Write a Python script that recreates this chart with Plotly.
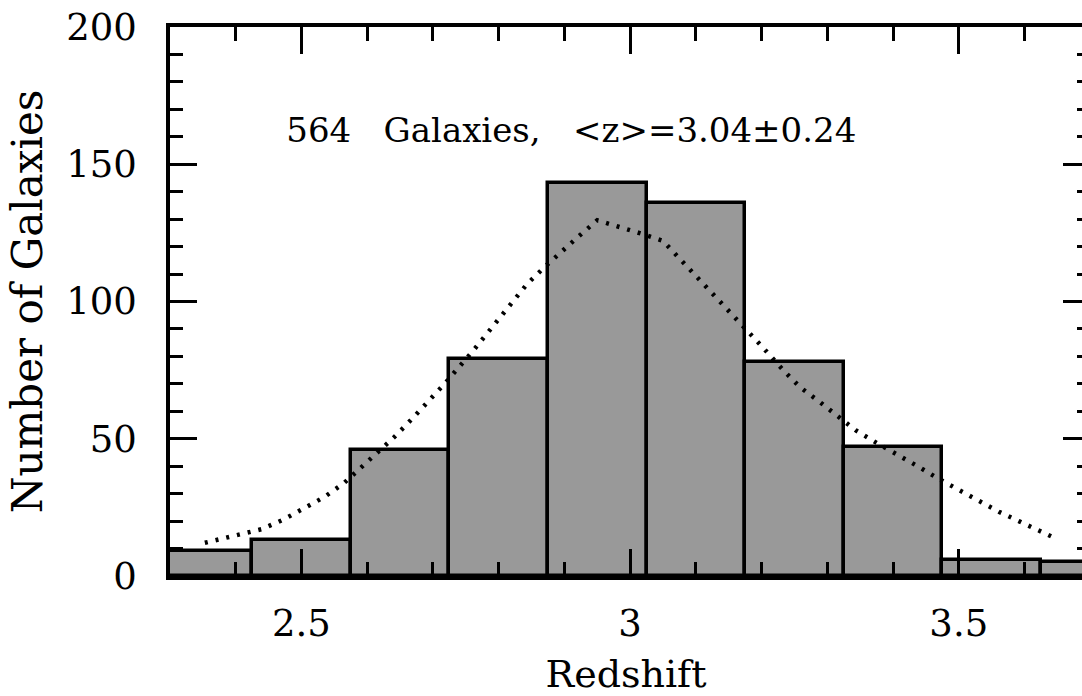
import plotly.graph_objects as go

# Histogram bins (redshift bin centres, width 0.15) and counts
bin_centers = [2.35, 2.50, 2.65, 2.80, 2.95, 3.10, 3.25, 3.40, 3.55, 3.70]
bin_counts = [9, 13, 46, 79, 143, 136, 78, 47, 6, 5]
bin_width = 0.15

# Dotted model curve
curve_z = [2.353, 2.406, 2.440, 2.473, 2.504, 2.535, 2.564, 2.590, 2.617, 2.643,
           2.668, 2.693, 2.718, 2.763, 2.798, 2.821, 2.843, 2.870, 2.895, 2.922,
           2.950, 2.984, 3.016, 3.050, 3.075, 3.100, 3.126, 3.148, 3.173, 3.198,
           3.234, 3.259, 3.288, 3.316, 3.343, 3.375, 3.406, 3.436, 3.468, 3.498,
           3.529, 3.561, 3.593, 3.627, 3.642]
curve_n = [12.1, 15.3, 17.1, 20.6, 24.9, 28.8, 33.7, 39.3, 45.4, 51.0,
           57.2, 63.5, 70.1, 82.6, 92.9, 99.6, 106.3, 112.6, 118.1, 123.8,
           129.6, 127.2, 124.8, 122.1, 115.7, 109.6, 103.1, 97.1, 90.8, 84.3,
           74.7, 68.7, 63.5, 58.2, 53.1, 48.5, 44.4, 40.2, 35.6, 31.6,
           27.3, 23.4, 19.8, 16.1, 14.3]

x_tickvals = [2.5, 3.0, 3.5]
x_ticktext = ["2.5", "3", "3.5"]
y_tickvals = [0, 50, 100, 150, 200]
y_ticktext = ["0", "50", "100", "150", "200"]

label_text = "564&nbsp;&nbsp; Galaxies,&nbsp;&nbsp; &lt;z&gt;=3.04&plusmn;0.24"

FONT = "DejaVu Serif"

fig = go.Figure()
fig.add_trace(go.Bar(
    x=bin_centers, y=bin_counts, width=bin_width,
    marker=dict(color="#999999", line=dict(color="black", width=3.5)),
    hoverinfo="skip", showlegend=False,
))
fig.add_trace(go.Scatter(
    x=curve_z, y=curve_n, mode="lines", yaxis="y2",
    line=dict(color="black", width=4.5, dash="3px,8px"),
    hoverinfo="skip", showlegend=False,
))

fig.update_layout(
    width=1082, height=696,
    margin=dict(l=170, r=0, t=27, b=120, autoexpand=False),
    paper_bgcolor="white", plot_bgcolor="white",
    font=dict(family=FONT, color="black"),
    bargap=0,
    title=dict(
        text=label_text, xref="paper", yref="container",
        x=0.44, y=1 - 130 / 696, xanchor="center", yanchor="middle",
        font=dict(family=FONT, size=34, color="black"),
    ),
    xaxis=dict(
        range=[2.3, 3.6875], showgrid=False, zeroline=False,
        showline=True, linewidth=3.5, linecolor="black", mirror="ticks",
        ticks="inside", ticklen=27, tickwidth=3, tickcolor="black",
        tickvals=x_tickvals, ticktext=x_ticktext,
        tickfont=dict(family=FONT, size=37), ticklabelstandoff=12,
        minor=dict(dtick=0.1, tick0=2.3, ticks="inside", ticklen=14,
                   tickwidth=3, tickcolor="black", showgrid=False),
        title=dict(text="Redshift", font=dict(family=FONT, size=38), standoff=26),
    ),
    yaxis=dict(
        range=[0, 200], showgrid=False, zeroline=False,
        showline=True, linewidth=3.5, linecolor="black", mirror=False,
        ticks="inside", ticklen=27, tickwidth=3, tickcolor="black",
        tickvals=y_tickvals, ticktext=y_ticktext,
        tickfont=dict(family=FONT, size=37), ticklabelstandoff=22,
        minor=dict(dtick=10, tick0=0, ticks="inside", ticklen=13,
                   tickwidth=3, tickcolor="black", showgrid=False),
        title=dict(text="Number of Galaxies", font=dict(family=FONT, size=42), standoff=12),
    ),
    yaxis2=dict(
        range=[0, 200], overlaying="y", side="right", anchor="x",
        showgrid=False, zeroline=False, showline=False, showticklabels=False,
        ticks="inside", ticklen=19, tickwidth=3, tickcolor="black",
        tickvals=y_tickvals,
        minor=dict(dtick=10, tick0=0, ticks="inside", ticklen=5,
                   tickwidth=3, tickcolor="black", showgrid=False),
    ),
)

fig.write_html("out.html")
